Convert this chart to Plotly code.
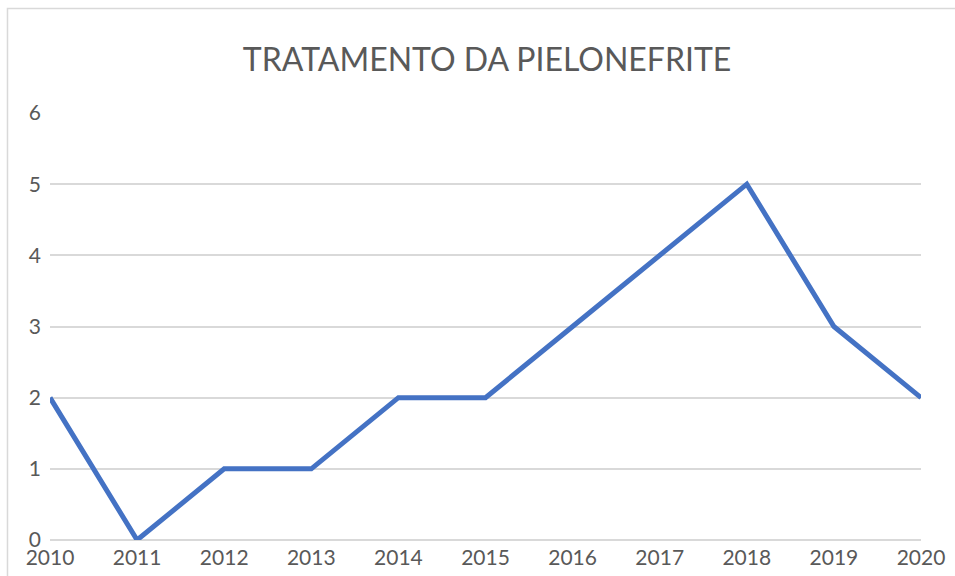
import plotly.graph_objects as go

years = [2010, 2011, 2012, 2013, 2014, 2015, 2016, 2017, 2018, 2019, 2020]
values = [2, 0, 1, 1, 2, 2, 3, 4, 5, 3, 2]
y_ticks = [0, 1, 2, 3, 4, 5, 6]
title_text = "TRATAMENTO DA PIELONEFRITE"

fig = go.Figure()
fig.add_trace(go.Scatter(
    x=years, y=values, mode="lines",
    line=dict(color="#4472C4", width=5),
    cliponaxis=False, hoverinfo="x+y",
))

grid = "#d9d9d9"
fig.update_layout(
    width=955, height=576,
    margin=dict(l=50, r=34, t=113, b=36),
    paper_bgcolor="white", plot_bgcolor="white",
    font=dict(family="Lato, Carlito, sans-serif", color="#595959"),
    title=dict(text=title_text, x=0.51, xanchor="center", y=0.897, yanchor="middle",
               font=dict(size=32, color="#595959", family="Lato, sans-serif")),
    showlegend=False,
    xaxis=dict(range=[2010, 2020], tickmode="array", tickvals=years,
               ticktext=[str(y) for y in years], showgrid=False, zeroline=False,
               showline=False, tickfont=dict(size=21), ticklabelstandoff=3,
               automargin=False),
    yaxis=dict(range=[0, 6], tickmode="array", tickvals=y_ticks,
               showgrid=True, gridcolor=grid, gridwidth=1.5, zeroline=True,
               zerolinecolor=grid, zerolinewidth=1.5, showline=False,
               tickfont=dict(size=21), ticklabelstandoff=8, automargin=False),
    shapes=[dict(type="rect", xref="paper", yref="paper",
                 x0=-0.0488, x1=1.1, y0=-0.3, y1=1.2447,
                 line=dict(color="#d9d9d9", width=1.5), layer="below")],
)

fig.write_html("out.html", config={"displayModeBar": False},
               post_script="document.body.style.margin='0';document.body.style.overflow='hidden';")
